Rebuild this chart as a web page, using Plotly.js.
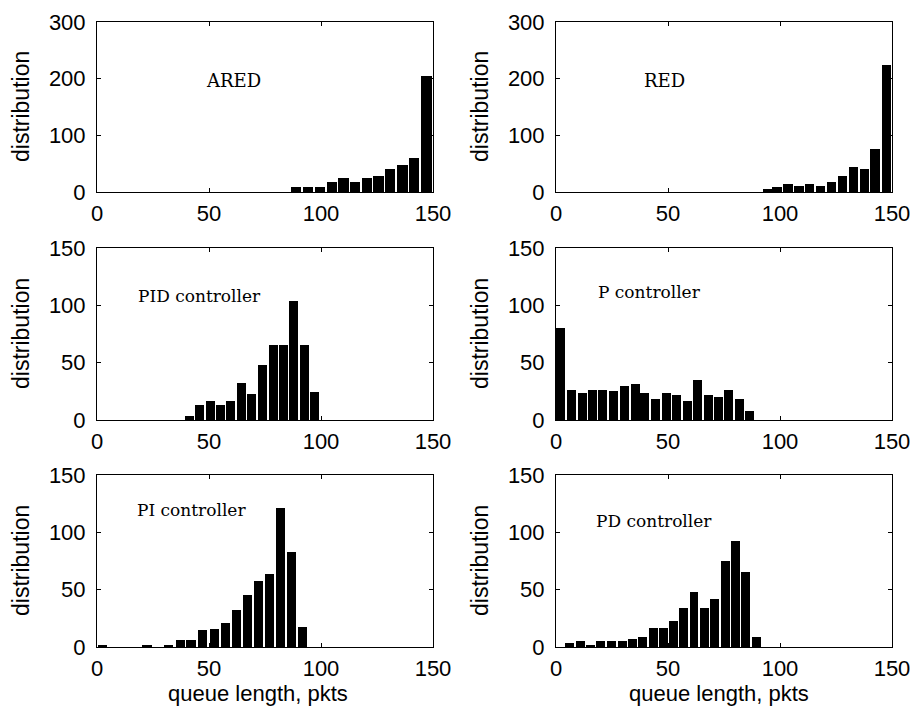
<!DOCTYPE html>
<html><head><meta charset="utf-8">
<script src="https://cdn.plot.ly/plotly-3.0.1.min.js"></script>
<style>html,body{margin:0;padding:0;background:#fff}#chart{width:913px;height:715px}</style>
</head><body><div id="chart"></div>
<script>
// ---- data ----
const xTickVals = [0, 50, 100, 150];
const yTickValsTop = [0, 100, 200, 300];
const yTickValsLow = [0, 50, 100, 150];

const aredBins   = [88.9, 94.2, 99.4, 104.8, 110.1, 115.3, 120.4, 125.6, 130.8, 136.4, 141.4, 147.1];
const aredCounts = [8, 8, 8, 17.5, 24.5, 17.5, 24.5, 27.5, 40.5, 47, 60, 205];

const redBins   = [94.3, 98.7, 103.5, 108.4, 113.2, 118.1, 122.9, 127.8, 132.9, 137.7, 142.4, 147.6];
const redCounts = [5, 8, 14.5, 11, 14.5, 11, 17.5, 27.5, 44, 40.5, 76.5, 224.5];

const pidBins   = [41.1, 45.9, 50.6, 55.2, 59.8, 64.4, 69.0, 73.7, 78.6, 83.2, 87.8, 92.6, 97.1];
const pidCounts = [3.8, 13.3, 16.3, 13.1, 16.3, 32.3, 22.7, 48.2, 65.6, 65.6, 104, 65.6, 24];

const pBins   = [2.2, 6.9, 11.8, 16.3, 20.9, 25.8, 30.6, 35.3, 39.7, 44.6, 49.2, 53.7, 58.6, 63.3, 68.0, 72.5, 77.1, 81.9, 86.2];
const pCounts = [80, 26.5, 23.5, 26.5, 26.5, 25, 29.5, 31.5, 23.5, 18.5, 23.5, 21.5, 17, 34.5, 21.5, 20, 26.5, 18.5, 7.5];

const piBins   = [2.4, 7.3, 12.3, 17.3, 22.4, 27.2, 32.0, 37.2, 42.0, 47.2, 52.4, 57.3, 62.4, 67.3, 72.0, 77.0, 81.9, 86.8, 91.7];
const piCounts = [2, 0, 0, 0, 2, 0, 2, 6.5, 6.5, 14.5, 16, 21, 32, 45, 57.5, 64, 121.5, 83, 17.5];

const pdBins   = [6.2, 10.9, 15.4, 20.0, 24.8, 29.5, 34.0, 38.8, 43.4, 47.9, 52.6, 57.1, 61.6, 66.3, 70.7, 75.6, 80.3, 84.7, 89.5];
const pdCounts = [3.2, 5.2, 1.8, 5.2, 5.2, 5.2, 7, 8.4, 16.3, 16.3, 23, 33.7, 48.3, 33.7, 41.9, 75.3, 92.7, 65.7, 8.4];

const panelNames = ["ARED", "RED", "PID controller", "P controller", "PI controller", "PD controller"];
const labelX = [47.8, 38.4, 17.4, 17.9, 17.0, 17.1];
const labelY = [197, 197, 108, 112, 119.5, 110];
const yAxisTitle = "distribution";
const xAxisTitle = "queue length, pkts";

// ---- figure ----
const W = 913, H = 715;
const SANS = "'Liberation Sans', Arial, sans-serif";
const SERIF = "'DejaVu Serif', 'Liberation Serif', serif";

const panels = [
  {bins: aredBins, counts: aredCounts, w: 4.6, top: true, fs: 18},
  {bins: redBins, counts: redCounts, w: 4.2, top: true, fs: 18},
  {bins: pidBins, counts: pidCounts, w: 4.0, top: false, fs: 17},
  {bins: pBins, counts: pCounts, w: 4.0, top: false, fs: 17},
  {bins: piBins, counts: piCounts, w: 4.2, top: false, fs: 17},
  {bins: pdBins, counts: pdCounts, w: 4.0, top: false, fs: 17}
];

const colPx = [[97, 433], [556, 892]];
const rowPx = [[22, 192], [248, 420], [475, 647]];

const traces = [];
const layout = {
  width: W, height: H,
  margin: {l: 0, r: 0, t: 0, b: 0},
  paper_bgcolor: '#fff', plot_bgcolor: '#fff',
  showlegend: false,
  bargap: 0,
  annotations: []
};

panels.forEach((p, i) => {
  const n = i + 1;
  const col = i % 2, row = Math.floor(i / 2);
  const xs = n === 1 ? 'x' : 'x' + n;
  const ys = n === 1 ? 'y' : 'y' + n;
  traces.push({
    type: 'bar', x: p.bins, y: p.counts, width: p.w,
    xaxis: xs, yaxis: ys,
    marker: {color: '#000', line: {width: 0}},
    hoverinfo: 'x+y'
  });
  const common = {
    showline: true, mirror: 'ticks', linecolor: '#000', linewidth: 1,
    ticks: 'inside', ticklen: 4, tickcolor: '#000', tickwidth: 1,
    showgrid: false, zeroline: false, automargin: false, fixedrange: true,
    ticklabeloverflow: 'allow',
    tickfont: {family: SANS, size: 22, color: '#000'}
  };
  layout['xaxis' + (n === 1 ? '' : n)] = Object.assign({}, common, {
    domain: [colPx[col][0] / W, colPx[col][1] / W],
    anchor: ys, range: [0, 150], tickmode: 'array', tickvals: xTickVals,
    ticklabelstandoff: 2
  });
  const yt = p.top ? yTickValsTop : yTickValsLow;
  layout['yaxis' + (n === 1 ? '' : n)] = Object.assign({}, common, {
    domain: [1 - rowPx[row][1] / H, 1 - rowPx[row][0] / H],
    anchor: xs, range: [0, yt[yt.length - 1]], tickmode: 'array', tickvals: yt,
    ticklabelstandoff: 6
  });
  layout.annotations.push({
    xref: xs, yref: ys, x: labelX[i], y: labelY[i], text: panelNames[i],
    showarrow: false, xanchor: 'left', yanchor: 'middle',
    font: {family: SERIF, size: p.fs, color: '#000'}
  });
  layout.annotations.push({
    xref: 'paper', yref: 'paper',
    x: (colPx[col][0] - 76) / W, y: 1 - (rowPx[row][0] + rowPx[row][1]) / 2 / H,
    text: yAxisTitle, textangle: -90, showarrow: false,
    xanchor: 'center', yanchor: 'middle',
    font: {family: SANS, size: 23, color: '#000'}
  });
  if (row === 2) {
    layout.annotations.push({
      xref: 'paper', yref: 'paper',
      x: (col === 0 ? 257.5 : 719) / W, y: 1 - 693 / H,
      text: xAxisTitle, showarrow: false, xanchor: 'center', yanchor: 'middle',
      font: {family: SANS, size: 22, color: '#000'}
    });
  }
});

Plotly.newPlot('chart', traces, layout, {staticPlot: true, displayModeBar: false});
</script>
</body></html>
